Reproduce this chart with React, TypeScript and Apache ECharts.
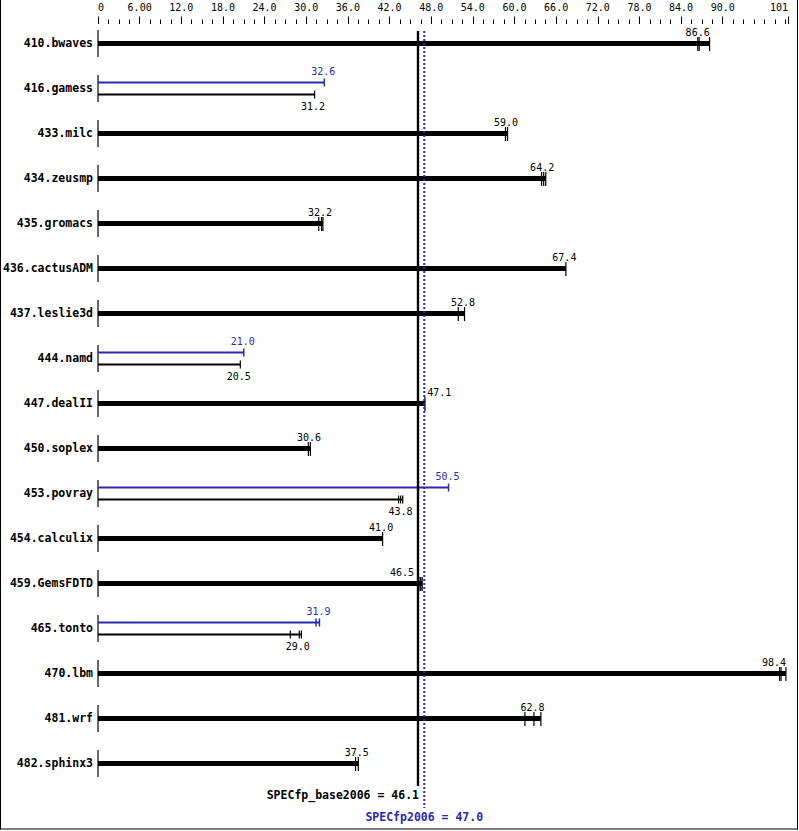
import React, { useEffect, useRef } from "react";
import * as echarts from "echarts";

// ---------- data ----------
const benchmarks = [
  "410.bwaves", "416.gamess", "433.milc", "434.zeusmp", "435.gromacs", "436.cactusADM",
  "437.leslie3d", "444.namd", "447.dealII", "450.soplex", "453.povray", "454.calculix",
  "459.GemsFDTD", "465.tonto", "470.lbm", "481.wrf", "482.sphinx3",
];
const baseRatio = [86.6, 31.2, 59.0, 64.2, 32.2, 67.4, 52.8, 20.5, 47.1, 30.6, 43.8, 41.0, 46.5, 29.0, 98.4, 62.8, 37.5];
const peakRatio: (number | null)[] = [null, 32.6, null, null, null, null, null, 21.0, null, null, 50.5, null, null, 31.9, null, null, null];
const baseRuns: number[][] = [
  [86.4, 86.6, 88.1], [31.2], [58.7, 59.0], [63.9, 64.2, 64.5], [31.8, 32.2, 32.4], [67.4],
  [51.9, 52.8], [20.5], [47.1], [30.3, 30.6], [43.3, 43.6, 43.9], [41.0],
  [46.4, 46.5, 46.7], [27.7, 29.0, 29.3], [98.2, 98.4, 99.1], [61.5, 62.8, 63.8], [37.1, 37.5],
];
const peakRuns: (number[] | null)[] = [
  null, [32.6], null, null, null, null, null, [21.0], null, null, [50.5], null, null, [31.4, 31.9], null, null, null,
];
const baseScore = 46.1;
const peakScore = 47.0;
const baseScoreLabel = "SPECfp_base2006 = 46.1";
const peakScoreLabel = "SPECfp2006 = 47.0";

const tickValues = [0, 6, 12, 18, 24, 30, 36, 42, 48, 54, 60, 66, 72, 78, 84, 90];
const tickLabels = ["0", "6.00", "12.0", "18.0", "24.0", "30.0", "36.0", "42.0", "48.0", "54.0", "60.0", "66.0", "72.0", "78.0", "84.0", "90.0"];
const axisEndLabel = "101";
const AXIS_MAX = 99.4; // drawn extent of the scale

// ---------- style ----------
const BLUE = "#2a2aac";
const MONO = '"DejaVu Sans Mono", "Liberation Mono", monospace';
const CHAR_W = 6.02;

const minorTicks: number[] = [];
for (let k = 1; k * 1.5 < AXIS_MAX; k++) {
  const v = k * 1.5;
  if (!(Math.abs(v % 6) < 1e-9 && v <= 90)) minorTicks.push(v);
}

export default function App() {
  const ref = useRef<HTMLDivElement>(null);
  useEffect(() => {
    if (!ref.current) return;
    const chart = echarts.init(ref.current, undefined, { renderer: "svg" });
    const n = benchmarks.length;

    const rowItem = (params: any, api: any) => {
      const i = api.value(1);
      const [x0, y] = api.coord([0, i]);
      const X = (v: number) => api.coord([v, i])[0];
      const xb = X(baseScore), xp = X(peakScore), xEnd = X(AXIS_MAX);
      const children: any[] = [];
      children.push({ type: "line", shape: { x1: x0, y1: y - 13, x2: x0, y2: y + 14 }, style: { stroke: "#000", lineWidth: 1.2 } });
      const text = (t: string, cx: number, yy: number, color: string) => {
        const w = t.length * CHAR_W;
        let left = cx - w / 2;
        if (left + w > xEnd - 2) left = xEnd - 2 - w;
        const lo = xb - 4, hi = xp + 3;
        if (left < hi && left + w > lo) {
          if (cx < (lo + hi) / 2) left = lo - w; else left = hi;
        }
        return {
          type: "text", x: left, y: yy,
          style: { text: t, fill: color, font: `10px ${MONO}`, align: "left", verticalAlign: "middle" },
        };
      };
      const runs = baseRuns[i];
      const bMax = Math.max(...runs);
      if (peakRatio[i] == null) {
        children.push({ type: "line", shape: { x1: x0, y1: y + 0.5, x2: X(bMax), y2: y + 0.5 }, style: { stroke: "#000", lineWidth: 5 } });
        runs.forEach((r) => children.push({ type: "line", shape: { x1: X(r), y1: y - 6, x2: X(r), y2: y + 8 }, style: { stroke: "#000", lineWidth: 1.2 } }));
        children.push(text(baseRatio[i].toFixed(1), X(baseRatio[i]) - 1.5, y - 11, "#000"));
      } else {
        const pr = peakRuns[i] as number[];
        const pMax = Math.max(...pr);
        const yp = y - 5.5, yb = y + 6.5;
        children.push({ type: "line", shape: { x1: x0, y1: yp, x2: X(pMax), y2: yp }, style: { stroke: BLUE, lineWidth: 2 } });
        pr.forEach((r) => children.push({ type: "line", shape: { x1: X(r), y1: yp - 4, x2: X(r), y2: yp + 4 }, style: { stroke: BLUE, lineWidth: 1.5 } }));
        children.push(text((peakRatio[i] as number).toFixed(1), X(peakRatio[i] as number) - 1, y - 16.5, BLUE));
        children.push({ type: "line", shape: { x1: x0, y1: yb, x2: X(bMax), y2: yb }, style: { stroke: "#000", lineWidth: 2 } });
        runs.forEach((r) => children.push({ type: "line", shape: { x1: X(r), y1: yb - 4, x2: X(r), y2: yb + 4 }, style: { stroke: "#000", lineWidth: 1.2 } }));
        children.push(text(baseRatio[i].toFixed(1), X(baseRatio[i]) - 1.5, y + 18, "#000"));
      }
      return { type: "group", children };
    };

    const refItem = (params: any, api: any) => {
      const yTop = api.coord([0, 0])[1];
      const yLast = api.coord([0, n - 1])[1];
      const xb = api.coord([baseScore, 0])[0];
      const xp = api.coord([peakScore, 0])[0];
      return {
        type: "group",
        children: [
          { type: "line", shape: { x1: xb, y1: yTop - 12, x2: xb, y2: yLast + 23 }, style: { stroke: "#000", lineWidth: 2.4 } },
          { type: "line", shape: { x1: xp, y1: yTop - 12, x2: xp, y2: yLast + 45 }, style: { stroke: BLUE, lineWidth: 2, lineDash: [2, 2] } },
          { type: "text", x: xb + 1, y: yLast + 32, style: { text: baseScoreLabel, fill: "#000", font: `bold 11.5px ${MONO}`, align: "right", verticalAlign: "middle" } },
          { type: "text", x: xp, y: yLast + 54, style: { text: peakScoreLabel, fill: BLUE, font: `bold 11.5px ${MONO}`, align: "center", verticalAlign: "middle" } },
        ],
      };
    };

    const labelValues = [...tickValues, AXIS_MAX];
    chart.setOption({
      animation: false,
      backgroundColor: "#fff",
      grid: [
        { left: 98, right: 11, top: 20.5, bottom: 45.5 },
        { left: 98, right: 11, top: 23, height: 1 },
        { left: 98, right: 11, top: 23, height: 1 },
      ],
      xAxis: [
        { type: "value", gridIndex: 0, min: 0, max: AXIS_MAX, show: false },
        {
          type: "value", gridIndex: 1, min: 0, max: AXIS_MAX, position: "top",
          axisLine: { show: false }, splitLine: { show: false },
          axisTick: { show: true, customValues: labelValues, length: 7.5, lineStyle: { color: "#000", width: 1 } },
          axisLabel: {
            show: true, customValues: labelValues, margin: 11, color: "#000",
            fontFamily: MONO, fontSize: 10, alignMinLabel: "left", alignMaxLabel: "right",
            formatter: (v: number) => {
              if (Math.abs(v - AXIS_MAX) < 1e-6) return axisEndLabel;
              const k = tickValues.findIndex((t) => Math.abs(t - v) < 1e-6);
              return k >= 0 ? tickLabels[k] : "";
            },
          },
        },
        {
          type: "value", gridIndex: 2, min: 0, max: AXIS_MAX, position: "top",
          axisLine: { show: false }, splitLine: { show: false }, axisLabel: { show: false },
          axisTick: { show: true, customValues: minorTicks, length: 4.5, lineStyle: { color: "#000", width: 1 } },
        },
      ],
      yAxis: [
        {
          type: "category", gridIndex: 0, data: benchmarks, inverse: true, boundaryGap: true,
          axisLine: { show: false }, axisTick: { show: false }, splitLine: { show: false },
          axisLabel: { margin: 5, color: "#000", fontFamily: MONO, fontSize: 11.5, fontWeight: "bold" },
        },
        { type: "value", gridIndex: 1, show: false },
        { type: "value", gridIndex: 2, show: false },
      ],
      graphic: [
        { type: "line", shape: { x1: 0.5, y1: 0, x2: 0.5, y2: 829.5 }, style: { stroke: "#000", lineWidth: 1 } },
        { type: "line", shape: { x1: 797.5, y1: 0, x2: 797.5, y2: 829.5 }, style: { stroke: "#000", lineWidth: 1 } },
        { type: "line", shape: { x1: 0, y1: 829, x2: 798, y2: 829 }, style: { stroke: "#000", lineWidth: 1 } },
      ],
      series: [
        {
          type: "custom", xAxisIndex: 0, yAxisIndex: 0, clip: false, silent: true,
          renderItem: rowItem, encode: { x: 0, y: 1 },
          data: benchmarks.map((_, i) => [Math.max(...baseRuns[i]), i]),
        },
        {
          type: "custom", xAxisIndex: 0, yAxisIndex: 0, clip: false, silent: true,
          renderItem: refItem, encode: { x: 0, y: 1 },
          data: [[baseScore, 0]],
        },
      ],
    });
    return () => chart.dispose();
  }, []);
  return <div ref={ref} style={{ position: "absolute", left: 0, top: 0, width: 799, height: 831 }} />;
}
